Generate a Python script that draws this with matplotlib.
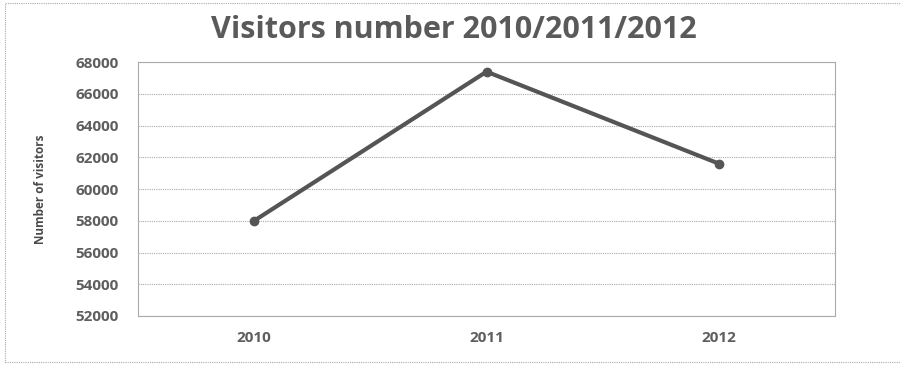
import matplotlib.pyplot as plt
from matplotlib.patches import Rectangle

years = ['2010', '2011', '2012']
visitors = [58000, 67400, 61600]
y_ticks = [52000, 54000, 56000, 58000, 60000, 62000, 64000, 66000, 68000]

plt.rcParams['font.family'] = ['Open Sans', 'DejaVu Sans']

fig = plt.figure(figsize=(9.01, 3.70), dpi=100)
ax = fig.add_axes([0.153, 0.146, 0.774, 0.686])

x = range(len(years))
ax.plot(x, visitors, color='#555555', lw=3, marker='o', ms=6, zorder=3)

ax.set_xlim(-0.5, 2.5)
ax.set_ylim(52000, 68000)
ax.set_yticks(y_ticks)
ax.set_yticklabels([str(v) for v in y_ticks])
ax.set_xticks(list(x))
ax.set_xticklabels(years)
ax.tick_params(length=0, labelsize=11, labelcolor='#5e5e5e')
ax.tick_params(axis='y', pad=14)
ax.tick_params(axis='x', pad=11)
for lbl in ax.get_xticklabels() + ax.get_yticklabels():
    lbl.set_fontweight('bold')

ax.grid(axis='y', color='#aaaaaa', lw=0.8, ls=(0, (1, 1)))
for s in ax.spines.values():
    s.set_color('#aaaaaa')
    s.set_linewidth(0.8)
    s.set_linestyle((0, (1, 1)))

ax.set_ylabel('Number of visitors', fontsize=8.5, fontweight='bold', color='#4a4a4a', labelpad=20)
fig.text(0.504, 0.92, 'Visitors number 2010/2011/2012', ha='center', va='center',
         fontsize=22, fontweight='bold', color='#5a5a5a')

# scanned page frame
fig.patches.append(Rectangle((0.006, 0.022), 1.2, 0.97, transform=fig.transFigure,
                             fill=False, ec='#aaaaaa', lw=0.8, ls=(0, (1, 1))))

fig.savefig('out.png', dpi=100)
plt.close(fig)
